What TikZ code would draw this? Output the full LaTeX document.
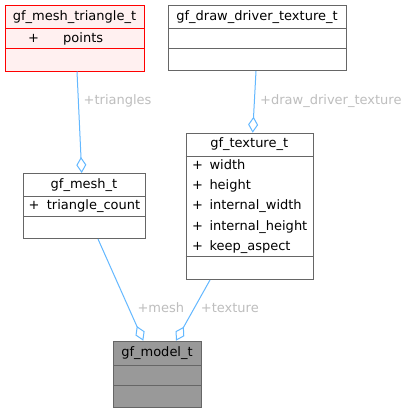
\documentclass[tikz,border=0pt]{standalone}
\usepackage{fontspec}
\setmainfont{DejaVu Sans}
\usetikzlibrary{arrows.meta}
\definecolor{boxgrey}{HTML}{666666}
\definecolor{mainfill}{HTML}{999999}
\definecolor{hotred}{HTML}{FF0000}
\definecolor{hotfill}{HTML}{FFF0F0}
\definecolor{edgeblue}{HTML}{63B8FF}
\definecolor{labelgrey}{HTML}{BEBEBE}

\begin{document}
\begin{tikzpicture}[x=1pt,y=-1pt,
    classbox/.style={draw=boxgrey,fill=white,line width=1pt,inner sep=0pt,anchor=north west},
    divider/.style={draw=boxgrey,line width=1pt},
    txt/.style={inner sep=0pt,text height=9.4pt,text depth=2.6pt,font=\fontsize{13}{15}\selectfont},
    memb/.style={txt,anchor=west},
    rolelabel/.style={txt,anchor=west,text=labelgrey},
    agg/.style={draw=edgeblue,line width=1pt,-{Diamond[open,length=16pt,width=10pt]}}]
        \fill[white] (0,0) rectangle (407,412);
        % classes
        \node[classbox,draw=hotred,fill=hotfill,minimum width=139pt,minimum height=65.5pt] (tri) at (5,5) {};
        \draw[divider,draw=hotred] ([yshift=-24pt]tri.north west) -- ([yshift=-24pt]tri.north east);
        \draw[divider,draw=hotred] ([yshift=-44pt]tri.north west) -- ([yshift=-44pt]tri.north east);
        \node[txt] (tri-name) at (74.5,17) {gf\_mesh\_triangle\_t};
        \node[txt] (tri-plus) at (33.5,39) {+};
        \node[memb] (tri-points) at (63,39) {points};

        \node[classbox,minimum width=177.4pt,minimum height=65pt] (drv) at (168.3,5) {};
        \draw[divider] ([yshift=-24pt]drv.north west) -- ([yshift=-24pt]drv.north east);
        \draw[divider] ([yshift=-44pt]drv.north west) -- ([yshift=-44pt]drv.north east);
        \node[txt] (drv-name) at (257,17) {gf\_draw\_driver\_texture\_t};

        \node[classbox,minimum width=121.7pt,minimum height=65pt] (mesh) at (23,173) {};
        \draw[divider] ([yshift=-23.7pt]mesh.north west) -- ([yshift=-23.7pt]mesh.north east);
        \draw[divider] ([yshift=-43.3pt]mesh.north west) -- ([yshift=-43.3pt]mesh.north east);
        \node[txt] (mesh-name) at (84,185) {gf\_mesh\_t};
        \node[txt] (mesh-plus) at (34,206.5) {+};
        \node[memb] (mesh-count) at (46.7,206.5) {triangle\_count};

        \node[classbox,minimum width=127pt,minimum height=146.3pt] (tex) at (185.7,132.7) {};
        \draw[divider] ([yshift=-23.6pt]tex.north west) -- ([yshift=-23.6pt]tex.north east);
        \draw[divider] ([yshift=-124pt]tex.north west) -- ([yshift=-124pt]tex.north east);
        \node[txt] (tex-name) at (249.2,144.5) {gf\_texture\_t};
        \node[txt] (tex-plus1) at (197.5,166.4) {+};
        \node[memb] (tex-width) at (209.3,166.4) {width};
        \node[txt] (tex-plus2) at (197.5,186.5) {+};
        \node[memb] (tex-height) at (209.3,186.5) {height};
        \node[txt] (tex-plus3) at (197.5,206.5) {+};
        \node[memb] (tex-iwidth) at (209.3,206.5) {internal\_width};
        \node[txt] (tex-plus4) at (197.5,226.6) {+};
        \node[memb] (tex-iheight) at (209.3,226.6) {internal\_height};
        \node[txt] (tex-plus5) at (197.5,246.7) {+};
        \node[memb] (tex-aspect) at (209.3,246.7) {keep\_aspect};

        \node[classbox,fill=mainfill,minimum width=87.4pt,minimum height=66pt] (model) at (113.3,340.7) {};
        \draw[divider] ([yshift=-24.6pt]model.north west) -- ([yshift=-24.6pt]model.north east);
        \draw[divider] ([yshift=-44.3pt]model.north west) -- ([yshift=-44.3pt]model.north east);
        \node[txt] (model-name) at (157,353) {gf\_model\_t};

        % aggregations
        \draw[agg] ([xshift=72pt]tri.south west) -- ([xshift=58.7pt]mesh.north west);
        \node[rolelabel] (lbl-tri) at (83.5,100.7) {+triangles};
        \draw[agg] ([xshift=87.7pt]drv.south west) -- ([xshift=67pt]tex.north west);
        \node[rolelabel] (lbl-drv) at (260,100.7) {+draw\_driver\_texture};
        \draw[agg] ([xshift=75pt]mesh.south west) -- ([xshift=30pt]model.north west);
        \node[rolelabel] (lbl-mesh) at (137.3,308.7) {+mesh};
        \draw[agg] ([xshift=24.3pt]tex.south west) -- ([xshift=62.7pt]model.north west);
        \node[rolelabel] (lbl-tex) at (200.7,308.7) {+texture};
\end{tikzpicture}
\end{document}
